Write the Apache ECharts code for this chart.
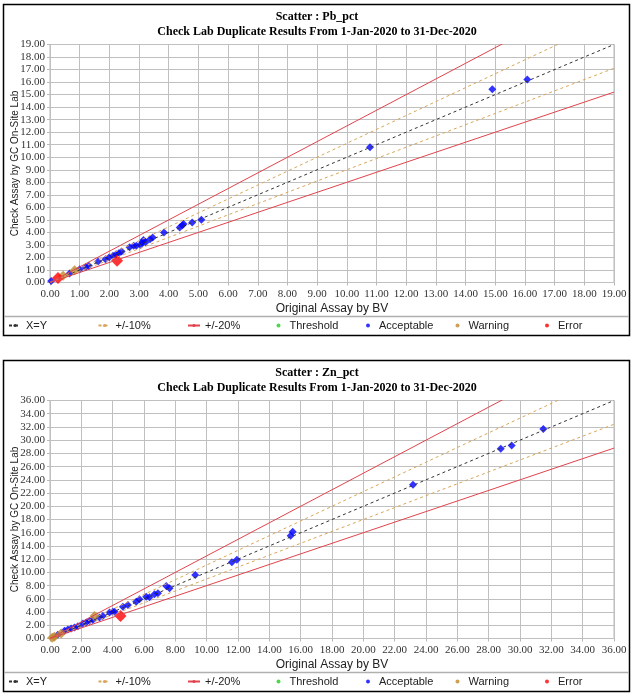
<!DOCTYPE html>
<html>
<head>
<meta charset="utf-8">
<script src="https://cdn.jsdelivr.net/npm/echarts@6/dist/echarts.min.js"></script>
<style>
html,body{margin:0;padding:0;background:#fff;}
#c{width:634px;height:693px;}
</style>
</head>
<body>
<div id="c"></div>
<script>
// ---------- DATA ----------
const legendNames = ['X=Y', '+/-10%', '+/-20%', 'Threshold', 'Acceptable', 'Warning', 'Error'];
const panelTitles = ['Scatter : Pb_pct', 'Scatter : Zn_pct'];
const subTitle = 'Check Lab Duplicate Results From 1-Jan-2020 to 31-Dec-2020';
const axisMax = [19, 36];
const axisStep = [1, 2];
const ratioXY = [1];
const ratio10 = [0.9, 1 / 0.9];
const ratio20 = [0.8, 1 / 0.8];

// Pb_pct
const pbAcceptableX = [0.04, 0.66, 1.0, 1.2, 1.31, 1.62, 1.87, 1.99, 2.12, 2.23, 2.32, 2.41, 2.68, 2.82, 2.91, 3.05, 3.11, 3.15, 3.22, 3.37, 3.46, 3.84, 4.37, 4.46, 4.5, 4.79, 5.1, 10.78, 14.9, 16.08];
const pbAcceptableY = [0.12, 0.72, 1.06, 1.22, 1.33, 1.68, 1.86, 2.0, 2.13, 2.26, 2.34, 2.47, 2.82, 2.93, 2.93, 3.0, 3.22, 3.4, 3.22, 3.46, 3.59, 3.99, 4.39, 4.57, 4.68, 4.79, 5.0, 10.8, 15.43, 16.2];
const pbWarningX = [0.44, 0.83];
const pbWarningY = [0.53, 0.98];
const pbErrorX = [0.27, 2.26];
const pbErrorY = [0.35, 1.73];

// Zn_pct
const znAcceptableX = [0.5, 0.93, 1.14, 1.35, 1.56, 1.78, 2.1, 2.31, 2.52, 2.73, 3.16, 3.37, 3.8, 4.01, 4.12, 4.65, 4.97, 5.5, 5.71, 6.14, 6.35, 6.67, 6.89, 7.42, 7.63, 9.27, 11.61, 11.93, 15.36, 15.49, 23.17, 28.77, 29.47, 31.49];
const znAcceptableY = [0.55, 1.16, 1.37, 1.52, 1.67, 1.87, 2.28, 2.43, 2.63, 2.78, 3.19, 3.39, 3.95, 4.05, 4.05, 4.81, 5.06, 5.57, 5.92, 6.33, 6.23, 6.68, 6.84, 7.95, 7.6, 9.62, 11.55, 11.9, 15.55, 16.15, 23.25, 28.72, 29.2, 31.7];
const znWarningX = [0.14, 0.28, 0.71, 2.84];
const znWarningY = [0.1, 0.25, 0.76, 3.39];
const znErrorX = [4.5];
const znErrorY = [3.39];

// ---------- BUILD ----------
const zip = (xs, ys) => xs.map((x, i) => [x, ys[i]]);
const panelOffset = [0, 356];
const colors = {
  xy: '#333333', p10: '#d9a65a', p20: '#e0444c',
  threshold: '#22cc22', acceptable: '#0000ff', warning: '#bf8a2c', error: '#ff0000'
};
const serif = '"Liberation Serif", "Times New Roman", serif';
const sans = '"Liberation Sans", Arial, sans-serif';

const option = {
  animation: false,
  backgroundColor: '#ffffff',
  title: [], grid: [], xAxis: [], yAxis: [], legend: [], series: [], graphic: []
};

const panels = [
  {acc: zip(pbAcceptableX, pbAcceptableY), warn: zip(pbWarningX, pbWarningY), err: zip(pbErrorX, pbErrorY)},
  {acc: zip(znAcceptableX, znAcceptableY), warn: zip(znWarningX, znWarningY), err: zip(znErrorX, znErrorY)}
];

panels.forEach((p, i) => {
  const off = panelOffset[i];
  const mx = axisMax[i];
  option.graphic.push({
    type: 'rect', shape: {x: 3.5, y: 4.5 + off, width: 626, height: 331},
    style: {fill: 'none', stroke: '#000', lineWidth: 1.5}, z: 100
  });
  option.graphic.push({
    type: 'line', shape: {x1: 4, y1: 316.5 + off, x2: 629, y2: 316.5 + off},
    style: {stroke: '#b0b0b0', lineWidth: 1.5}, z: 100
  });
  option.title.push({
    text: panelTitles[i], subtext: subTitle,
    left: 'center', top: 11 + off, itemGap: 3, padding: 0,
    textStyle: {fontFamily: serif, fontWeight: 'bold', fontSize: 12, color: '#000'},
    subtextStyle: {fontFamily: serif, fontWeight: 'bold', fontSize: 12, color: '#000'}
  });
  option.grid.push({
    left: 50, top: 44.5 + off, width: 564, height: 238,
    show: true, borderColor: '#b8b8b8', borderWidth: 1, containLabel: false,
    outerBoundsMode: 'none'
  });
  const axisCommon = {
    min: 0, max: mx, interval: axisStep[i],
    axisLine: {show: false},
    axisTick: {show: true, length: 3, lineStyle: {color: '#b8b8b8'}},
    splitLine: {show: true, lineStyle: {color: '#c0c0c0', width: 1}},
    axisLabel: {fontFamily: serif, fontSize: 11, color: '#333', margin: 5, formatter: v => v.toFixed(2)},
    nameLocation: 'middle',
    nameMoveOverlap: false
  };
  option.xAxis.push(Object.assign({}, axisCommon, {
    type: 'value', gridIndex: i, name: 'Original Assay by BV', nameGap: 20,
    axisLabel: Object.assign({}, axisCommon.axisLabel, {margin: 6}),
    nameTextStyle: {fontFamily: sans, fontSize: 12, color: '#222'}
  }));
  option.yAxis.push(Object.assign({}, axisCommon, {
    type: 'value', gridIndex: i, name: 'Check Assay by GC On-Site Lab', nameGap: 30,
    nameTextStyle: {fontFamily: sans, fontSize: 10, color: '#222'}
  }));
  legendNames.forEach((n, k) => {
    option.legend.push({
      top: 320 + off, left: 8 + k * 89.5, orient: 'horizontal',
      itemWidth: 12, itemHeight: 4, itemGap: 0, padding: 0,
      textStyle: {fontFamily: sans, fontSize: 11, color: '#222'},
      data: [k < 3 ? {name: n} : {name: n, icon: 'circle'}]
    });
  });
  const lineSeries = (name, ratios, color, dash) => ratios.forEach(r => {
    option.series.push({
      name: name, type: 'line', xAxisIndex: i, yAxisIndex: i,
      data: [[0, 0], [mx, mx * r]], symbol: 'none', clip: true, silent: true,
      lineStyle: {color: color, width: 1, type: dash}, itemStyle: {color: color}
    });
  });
  lineSeries('X=Y', ratioXY, colors.xy, [3, 3]);
  lineSeries('+/-10%', ratio10, colors.p10, [3, 3]);
  lineSeries('+/-20%', ratio20, colors.p20, 'solid');
  option.series.push({name: 'Threshold', type: 'scatter', xAxisIndex: i, yAxisIndex: i, data: [], itemStyle: {color: colors.threshold}});
  option.series.push({name: 'Acceptable', type: 'scatter', xAxisIndex: i, yAxisIndex: i, data: p.acc,
    symbol: 'diamond', symbolSize: 8, itemStyle: {color: colors.acceptable}});
  option.series.push({name: 'Warning', type: 'scatter', xAxisIndex: i, yAxisIndex: i, data: p.warn,
    symbol: 'diamond', symbolSize: 10, itemStyle: {color: colors.warning}});
  option.series.push({name: 'Error', type: 'scatter', xAxisIndex: i, yAxisIndex: i, data: p.err,
    symbol: 'diamond', symbolSize: 12, itemStyle: {color: colors.error}});
});

const chart = echarts.init(document.getElementById('c'), null, {renderer: 'canvas'});
chart.setOption(option);
</script>
</body>
</html>
